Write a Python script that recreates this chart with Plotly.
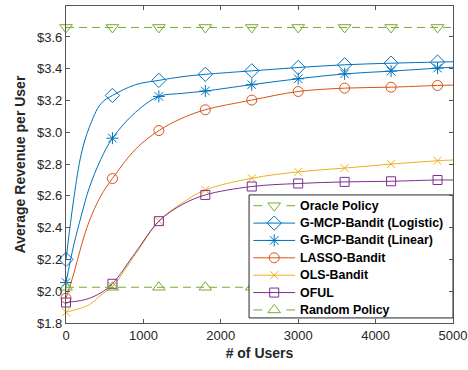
import plotly.graph_objects as go

# ---- data ----
users_curve = [0, 100, 200, 300, 450, 600, 900, 1200, 1500, 1800, 2400, 3000, 3600, 4200, 4800, 5000]
users_marker = [0, 600, 1200, 1800, 2400, 3000, 3600, 4200, 4800]

oracle_value = 3.66
random_value = 2.025
gmcp_logistic = [2.20, 2.58, 2.87, 3.03, 3.18, 3.232, 3.30, 3.327, 3.35, 3.365, 3.387, 3.408, 3.425, 3.435, 3.442, 3.444]
gmcp_linear = [2.055, 2.29, 2.48, 2.65, 2.83, 2.963, 3.127, 3.226, 3.245, 3.26, 3.30, 3.337, 3.368, 3.385, 3.404, 3.41]
lasso_bandit = [1.956, 2.11, 2.29, 2.44, 2.60, 2.709, 2.895, 3.011, 3.089, 3.142, 3.203, 3.257, 3.278, 3.284, 3.295, 3.297]
ols_bandit = [1.868, 1.88, 1.895, 1.915, 1.975, 2.03, 2.235, 2.441, 2.555, 2.637, 2.711, 2.751, 2.775, 2.80, 2.821, 2.826]
oful = [1.929, 1.935, 1.942, 1.955, 1.99, 2.047, 2.245, 2.441, 2.545, 2.606, 2.659, 2.678, 2.688, 2.692, 2.70, 2.70]

y_ticks = [1.8, 2.0, 2.2, 2.4, 2.6, 2.8, 3.0, 3.2, 3.4, 3.6]
x_ticks = [0, 1000, 2000, 3000, 4000, 5000]

BLUE = "#0072BD"
ORANGE = "#D95319"
YELLOW = "#EDB120"
PURPLE = "#7E2F8E"
GREEN = "#77AC30"
FONT = "Liberation Sans, Arial, sans-serif"

fig = go.Figure()

def at_markers(vals):
    lookup = dict(zip(users_curve, vals))
    return [lookup[u] for u in users_marker]

series = [
    ("Oracle Policy", None, GREEN, "triangle-down-open", 11, True),
    ("G-MCP-Bandit (Logistic)", gmcp_logistic, BLUE, "diamond-open", 11, False),
    ("G-MCP-Bandit (Linear)", gmcp_linear, BLUE, "asterisk-open", 10, False),
    ("LASSO-Bandit", lasso_bandit, ORANGE, "circle-open", 10, False),
    ("OLS-Bandit", ols_bandit, YELLOW, "x-thin-open", 8, False),
    ("OFUL", oful, PURPLE, "square-open", 9, False),
    ("Random Policy", None, GREEN, "triangle-up-open", 11, True),
]

# data traces
for name, vals, color, sym, size, dashed in series:
    mk = dict(symbol=sym, size=size, color=color, line=dict(width=1, color=color))
    if dashed:
        const = oracle_value if name == "Oracle Policy" else random_value
        fig.add_trace(go.Scatter(x=[0, 5000], y=[const, const], mode="lines",
                                 line=dict(color=color, width=1, dash="8px,5px"),
                                 showlegend=False, hoverinfo="skip"))
        fig.add_trace(go.Scatter(x=users_marker, y=[const] * len(users_marker), mode="markers",
                                 marker=mk, showlegend=False, cliponaxis=False, name=name))
    else:
        fig.add_trace(go.Scatter(x=users_curve, y=vals, mode="lines",
                                 line=dict(color=color, width=1, shape="spline", smoothing=1.0),
                                 showlegend=False, hoverinfo="skip"))
        fig.add_trace(go.Scatter(x=users_marker, y=at_markers(vals), mode="markers",
                                 marker=mk, showlegend=False, cliponaxis=False, name=name))

# legend layout (fractions of the plot area), drawn on an overlay axis above the data
leg_x0, leg_x1, leg_y0, leg_y1 = 0.473, 1.0, 0.016, 0.404
leg_row_top, leg_row_step = 0.370, 0.0548
leg_line_x0, leg_line_x1, leg_mark_x, leg_text_x = 0.484, 0.592, 0.538, 0.600

fig.add_trace(go.Scatter(x=[leg_x0, leg_x1, leg_x1, leg_x0, leg_x0],
                         y=[leg_y0, leg_y0, leg_y1, leg_y1, leg_y0],
                         mode="lines", fill="toself", fillcolor="white",
                         line=dict(color="#262626", width=1),
                         xaxis="x2", yaxis="y2", showlegend=False, hoverinfo="skip"))

for i, (name, vals, color, sym, size, dashed) in enumerate(series):
    mk = dict(symbol=sym, size=size, color=color, line=dict(width=1, color=color))
    ry = leg_row_top - i * leg_row_step
    fig.add_trace(go.Scatter(x=[leg_line_x0, leg_line_x1], y=[ry, ry], mode="lines",
                             line=dict(color=color, width=1, dash="9px,24px" if dashed else "solid"),
                             xaxis="x2", yaxis="y2", showlegend=False, hoverinfo="skip"))
    fig.add_trace(go.Scatter(x=[leg_mark_x], y=[ry], mode="markers", marker=mk,
                             xaxis="x2", yaxis="y2", showlegend=False, hoverinfo="skip"))
    fig.add_annotation(x=leg_text_x, y=ry, xref="paper", yref="paper", text="<b>%s</b>" % name,
                       showarrow=False, xanchor="left", yanchor="middle",
                       font=dict(family=FONT, size=12.4, color="black"))

axis_common = dict(
    showline=True, mirror="ticks", linecolor="#555555", linewidth=1.3,
    ticks="inside", ticklen=4, tickcolor="#555555",
    showgrid=False, zeroline=False, automargin=False,
    tickfont=dict(family=FONT, size=13, color="#262626"),
)

fig.update_layout(
    width=468, height=370,
    margin=dict(l=66, r=15, t=6, b=47),
    paper_bgcolor="white", plot_bgcolor="white",
    font=dict(family=FONT, color="#262626"),
    xaxis=dict(range=[0, 5000], tickvals=x_ticks, ticktext=[str(v) for v in x_ticks],
               title=dict(text="<b># of Users</b>", font=dict(size=14), standoff=6), **axis_common),
    yaxis=dict(range=[1.8, 3.795], tickvals=y_ticks, ticktext=["$%.1f" % v for v in y_ticks],
               title=dict(text="<b>Average Revenue per User</b>", font=dict(size=14), standoff=8), **axis_common),
    xaxis2=dict(range=[0, 1], overlaying="x", visible=False, anchor="y2"),
    yaxis2=dict(range=[0, 1], overlaying="y", visible=False, anchor="x2"),
    showlegend=False,
)

fig.write_html("out.html", config={"displayModeBar": False},
               post_script="document.body.style.margin='0';")
